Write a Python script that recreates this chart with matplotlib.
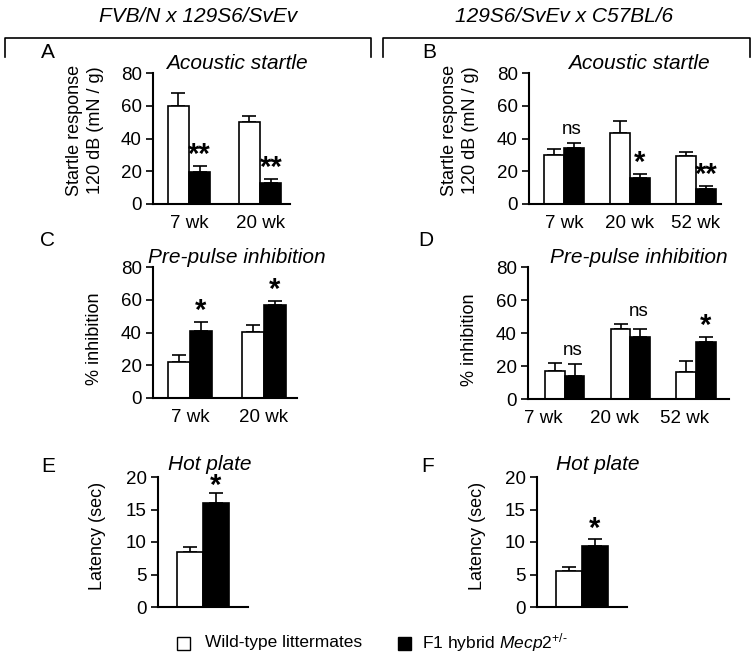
import numpy as np
import matplotlib.pyplot as plt
import matplotlib
from matplotlib.patches import Rectangle

matplotlib.rcParams['font.family'] = ['Liberation Sans', 'DejaVu Sans']
matplotlib.rcParams['mathtext.fontset'] = 'custom'
matplotlib.rcParams['mathtext.rm'] = 'Liberation Sans'
matplotlib.rcParams['mathtext.it'] = 'Liberation Sans:italic'

# data (wild-type, F1 hybrid Mecp2+/-)
ages_2 = ["7 wk", "20 wk"]
ages_3 = ["7 wk", "20 wk", "52 wk"]

a_wt = [60, 50]
a_wt_err = [7.8, 4.0]
a_het = [19.5, 12.8]
a_het_err = [3.7, 2.5]
a_sig = ["**", "**"]

b_wt = [30, 43.6, 29.5]
b_wt_err = [3.6, 7.3, 2.3]
b_het = [34.4, 16, 9.4]
b_het_err = [3.1, 2.5, 1.6]
b_sig = ["ns", "*", "**"]

c_wt = [22, 40.3]
c_wt_err = [4.3, 4.3]
c_het = [41, 56.8]
c_het_err = [5.4, 2.4]
c_sig = ["*", "*"]

d_wt = [17, 42.4, 16.4]
d_wt_err = [4.8, 3.1, 6.6]
d_het = [14, 37.6, 34.5]
d_het_err = [7.2, 4.8, 3.1]
d_sig = ["ns", "ns", "*"]

e_wt = [8.4]
e_wt_err = [0.8]
e_het = [16.0]
e_het_err = [1.6]
e_sig = ["*"]

f_wt = [5.6]
f_wt_err = [0.5]
f_het = [9.4]
f_het_err = [1.0]
f_sig = ["*"]

W, H = 752, 653
fig = plt.figure(figsize=(W / 100, H / 100), dpi=100)

TICK = 13.5
LAB = 13
TITLE = 15


def px_axes(left, right, top, bottom):
    return fig.add_axes([left / W, 1 - bottom / H, (right - left) / W, (bottom - top) / H])


def bar_panel(ax, wt, wt_err, het, het_err, ymax, yticks, xlim, width=0.3):
    x = np.arange(len(wt))
    ax.bar(x - width / 2, wt, width, color="white", edgecolor="black", linewidth=1.2, zorder=2)
    ax.bar(x + width / 2, het, width, color="black", edgecolor="black", linewidth=1.2, zorder=2)
    ax.errorbar(x - width / 2, wt, yerr=[np.zeros(len(wt)), wt_err], fmt="none",
                ecolor="black", elinewidth=1.2, capsize=5, capthick=1.2, zorder=1)
    ax.errorbar(x + width / 2, het, yerr=[np.zeros(len(het)), het_err], fmt="none",
                ecolor="black", elinewidth=1.2, capsize=5, capthick=1.2, zorder=1)
    ax.set_ylim(0, ymax)
    ax.set_yticks(yticks)
    ax.set_xlim(*xlim)
    for s in ["top", "right"]:
        ax.spines[s].set_visible(False)
    for s in ["left", "bottom"]:
        ax.spines[s].set_linewidth(1.5)
    ax.tick_params(axis="y", direction="out", length=5, width=1.2, labelsize=TICK, pad=3)
    ax.tick_params(axis="x", length=0, labelsize=TICK, pad=8)
    return x


def sig_marks(ax, x, wt, wt_err, het, het_err, sig, width=0.3, star_off=2):
    for i, s in enumerate(sig):
        if s == "ns":
            top = max(wt[i] + wt_err[i], het[i] + het_err[i])
            ax.annotate(s, (x[i] + 0.12, top), xytext=(0, 6), textcoords="offset points",
                        ha="center", va="baseline", fontsize=TICK)
        else:
            top = het[i] + het_err[i]
            ax.annotate(s, (x[i] + width / 2, top), xytext=(0, star_off), textcoords="offset points",
                        ha="center", va="baseline", fontsize=21, fontweight="bold")


# ---- A
axA = px_axes(153, 290, 73, 204)
x = bar_panel(axA, a_wt, a_wt_err, a_het, a_het_err, 80, [0, 20, 40, 60, 80], (-0.507, 1.42))
axA.set_xticks(x)
axA.set_xticklabels(ages_2)
sig_marks(axA, x, a_wt, a_wt_err, a_het, a_het_err, a_sig)
axA.set_ylabel("Startle response\n120 dB (mN / g)", fontsize=LAB, linespacing=1.3)
axA.yaxis.set_label_coords(-0.36, 0.56)
axA.set_title("Acoustic startle", fontsize=TITLE, style="italic", pad=3, x=0.61)

# ---- B
axB = px_axes(529, 721, 73, 204)
x = bar_panel(axB, b_wt, b_wt_err, b_het, b_het_err, 80, [0, 20, 40, 60, 80], (-0.53, 2.38))
axB.set_xticks(x)
axB.set_xticklabels(ages_3)
sig_marks(axB, x, b_wt, b_wt_err, b_het, b_het_err, b_sig)
axB.set_ylabel("Startle response\n120 dB (mN / g)", fontsize=LAB, linespacing=1.3)
axB.yaxis.set_label_coords(-0.26, 0.56)
axB.set_title("Acoustic startle", fontsize=TITLE, style="italic", pad=3, x=0.57)

# ---- C
axC = px_axes(153, 297, 267, 398)
x = bar_panel(axC, c_wt, c_wt_err, c_het, c_het_err, 80, [0, 20, 40, 60, 80], (-0.5, 1.45))
axC.set_xticks(x)
axC.set_xticklabels(ages_2)
sig_marks(axC, x, c_wt, c_wt_err, c_het, c_het_err, c_sig)
axC.set_ylabel("% inhibition", fontsize=LAB)
axC.yaxis.set_label_coords(-0.35, 0.45)
axC.set_title("Pre-pulse inhibition", fontsize=TITLE, style="italic", pad=3, x=0.58)

# ---- D
axD = px_axes(528, 729, 267, 399)
x = bar_panel(axD, d_wt, d_wt_err, d_het, d_het_err, 80, [0, 20, 40, 60, 80], (-0.56, 2.5))
axD.set_xticks(x - np.array([0.33, 0.24, 0.18]))
axD.set_xticklabels(ages_3)
sig_marks(axD, x, d_wt, d_wt_err, d_het, d_het_err, d_sig)
axD.set_ylabel("% inhibition", fontsize=LAB)
axD.yaxis.set_label_coords(-0.25, 0.45)
axD.set_title("Pre-pulse inhibition", fontsize=TITLE, style="italic", pad=3, x=0.55)

# ---- E
axE = px_axes(158, 248, 477, 607)
x = bar_panel(axE, e_wt, e_wt_err, e_het, e_het_err, 20, [0, 5, 10, 15, 20], (-0.52, 0.52))
axE.set_xticks([])
sig_marks(axE, x, e_wt, e_wt_err, e_het, e_het_err, e_sig, star_off=-1)
axE.set_ylabel("Latency (sec)", fontsize=LAB)
axE.yaxis.set_label_coords(-0.58, 0.55)
axE.set_title("Hot plate", fontsize=TITLE, style="italic", pad=5, x=0.58)

# ---- F
axF = px_axes(537, 627, 477, 607)
x = bar_panel(axF, f_wt, f_wt_err, f_het, f_het_err, 20, [0, 5, 10, 15, 20], (-0.52, 0.52))
axF.set_xticks([])
sig_marks(axF, x, f_wt, f_wt_err, f_het, f_het_err, f_sig)
axF.set_ylabel("Latency (sec)", fontsize=LAB)
axF.yaxis.set_label_coords(-0.57, 0.55)
axF.set_title("Hot plate", fontsize=TITLE, style="italic", pad=5, x=0.67)

# panel letters
for lab, (lx, ly) in zip("ABCDEF", [(48, 53), (429, 53), (48, 240), (426, 240), (48, 466), (428, 466)]):
    fig.text(lx / W, 1 - ly / H, lab, fontsize=15, ha="center", va="center")

# strain headers with brackets
for txt, cx, l, r in [("FVB/N x 129S6/SvEv", 198, 5, 371),
                      ("129S6/SvEv x C57BL/6", 564, 383, 750)]:
    fig.text(cx / W, 1 - 17 / H, txt, fontsize=15, style="italic", ha="center", va="center")
    fig.lines.append(plt.Line2D([l / W, l / W, r / W, r / W],
                                [1 - 57 / H, 1 - 38 / H, 1 - 38 / H, 1 - 57 / H],
                                transform=fig.transFigure, color="black", linewidth=1.2))

# legend
fig.patches.append(Rectangle((177 / W, 1 - 650 / H), 13 / W, 13 / H, transform=fig.transFigure,
                             facecolor="white", edgecolor="black", linewidth=1.0))
fig.text(205 / W, 1 - 643 / H, "Wild-type littermates", fontsize=12.5, va="center")
fig.patches.append(Rectangle((398 / W, 1 - 650 / H), 13 / W, 13 / H, transform=fig.transFigure,
                             facecolor="black", edgecolor="black", linewidth=1.0))
fig.text(422 / W, 1 - 643 / H, r"F1 hybrid $\mathit{Mecp2}^{\text{+/-}}$", fontsize=12.5, va="center")

plt.savefig("out.png", dpi=100)
